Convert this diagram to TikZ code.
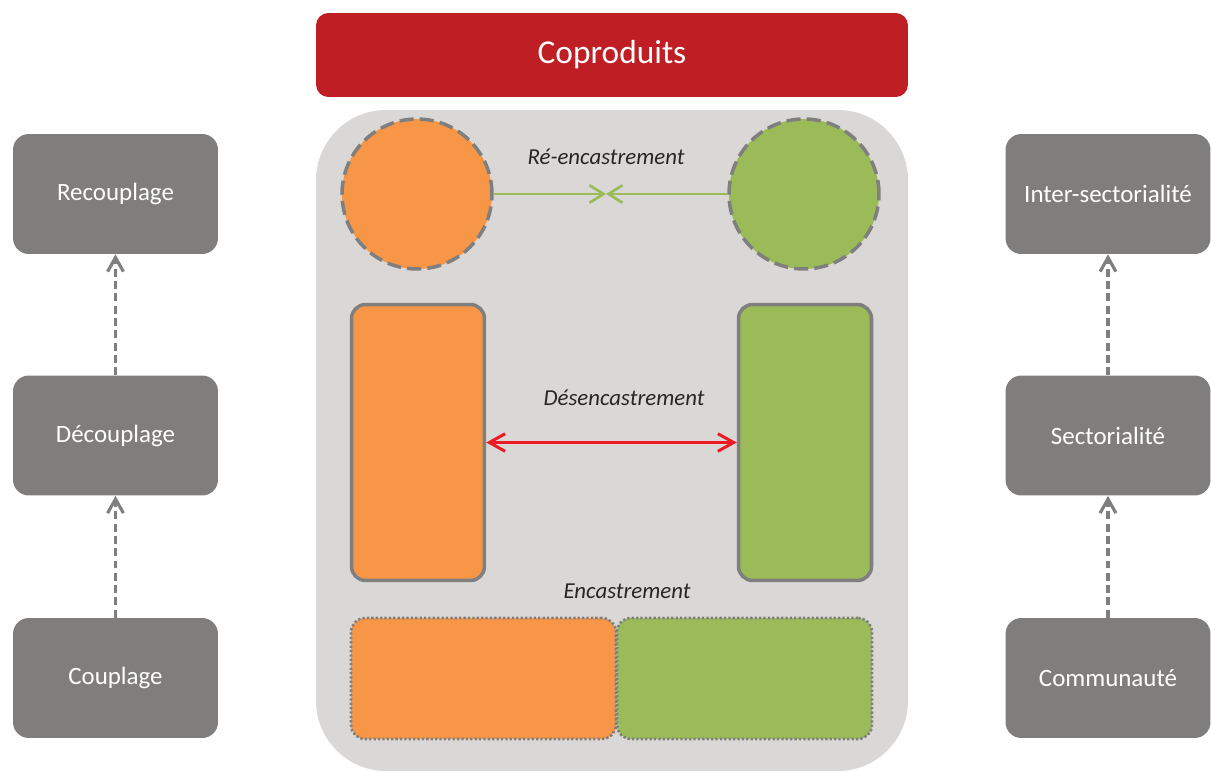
\documentclass[tikz,border=0pt]{standalone}
\usepackage{fontspec}
\setmainfont{Carlito}
\usetikzlibrary{arrows.meta,positioning,calc}
\definecolor{coprouge}{HTML}{BE1E24}
\definecolor{fondgris}{HTML}{D9D8D7}
\definecolor{boitegris}{HTML}{7F7E7D}
\definecolor{bordgris}{HTML}{7F7F7F}
\definecolor{orangeA}{HTML}{F79646}
\definecolor{vertA}{HTML}{9BBB59}
\definecolor{rougefl}{HTML}{ED1C24}
\definecolor{texte}{HTML}{262626}
\tikzset{
  niveau/.style={rectangle, rounded corners=9pt, fill=boitegris, text=white, inner sep=2pt,
                 minimum width=4.1cm, minimum height=2.4cm, align=center, font=\fontsize{14.2}{16}\selectfont},
  pastille/.style={circle, draw=bordgris, fill=#1, line width=2pt, dash pattern=on 8pt off 3.5pt,
                   minimum size=3.0cm, inner sep=0pt},
  pilier/.style={rectangle, rounded corners=8pt, draw=bordgris, fill=#1, line width=2pt,
                 minimum width=2.66cm, minimum height=5.52cm, inner sep=0pt},
  bloc/.style={rectangle, rounded corners=8pt, draw=bordgris, fill=#1, line width=1.5pt,
               dash pattern=on 1.3pt off 1.2pt, minimum height=2.42cm, inner sep=0pt},
  etiq/.style={text=texte, font=\itshape\fontsize{13}{15}\selectfont},
  flvert/.style={-{Straight Barb[length=8pt, width=10pt]}, line width=1.5pt, draw=vertA},
  flrouge/.style={-{Straight Barb[length=9pt, width=10pt]}, line width=1.7pt, draw=rougefl},
  flgris/.style={-{Straight Barb[length=8pt, width=9pt]}, line width=1.8pt, draw=bordgris,
                 dash pattern=on 4.5pt off 2.5pt},
}

\begin{document}
\begin{tikzpicture}[x=0.02cm, y=-0.02cm]
\useasboundingbox (0,0) rectangle (1211,771);
% fond central
\fill[fondgris, rounded corners=40pt] (316,110) rectangle (908,771);
\node[rectangle, rounded corners=7pt, fill=coprouge, text=white, minimum width=11.84cm, minimum height=1.68cm,
      font=\fontsize{19}{22}\selectfont] (copro) at (612,55) {Coproduits};

% colonne gauche
\node[niveau] (recouplage) at (115.5,194) {Recouplage};
\node[niveau] (decouplage) at (115.5,435.5) {Découplage};
\node[niveau] (couplage) at (115.5,678) {Couplage};
\draw[flgris] (couplage.north) -- (decouplage.south);
\draw[flgris] (decouplage.north) -- (recouplage.south);

% colonne droite
\node[niveau] (intersect) at (1108,194) {Inter-sectorialité};
\node[niveau] (sectorialite) at (1108,435.5) {Sectorialité};
\node[niveau] (communaute) at (1108,678) {Communauté};
\draw[flgris] (communaute.north) -- (sectorialite.south);
\draw[flgris] (sectorialite.north) -- (intersect.south);

% re-encastrement
\node[pastille=orangeA] (orC) at (417,194) {};
\node[pastille=vertA] (veC) at (804,194) {};
\coordinate (rencontre) at (606,194);
\draw[flvert] (orC.east) -- (rencontre);
\draw[flvert] (veC.west) -- (rencontre);
\node[etiq] (lreenc) at (606,157) {Ré-encastrement};

% desencastrement
\node[pilier=orangeA] (orP) at (418,442.5) {};
\node[pilier=vertA] (veP) at (805,442.5) {};
\coordinate (milieu) at ($(orP.east)!0.5!(veP.west)$);
\draw[flrouge] (milieu) -- (orP.east);
\draw[flrouge] (milieu) -- (veP.west);
\node[etiq] (ldesenc) at (624,398) {Désencastrement};

% encastrement
\node[etiq] (lenc) at (627,591) {Encastrement};
\node[bloc=orangeA, minimum width=5.3cm] (orB) at (483.5,678.5) {};
\node[bloc=vertA, minimum width=5.1cm] (veB) at (744.5,678.5) {};
\end{tikzpicture}
\end{document}
